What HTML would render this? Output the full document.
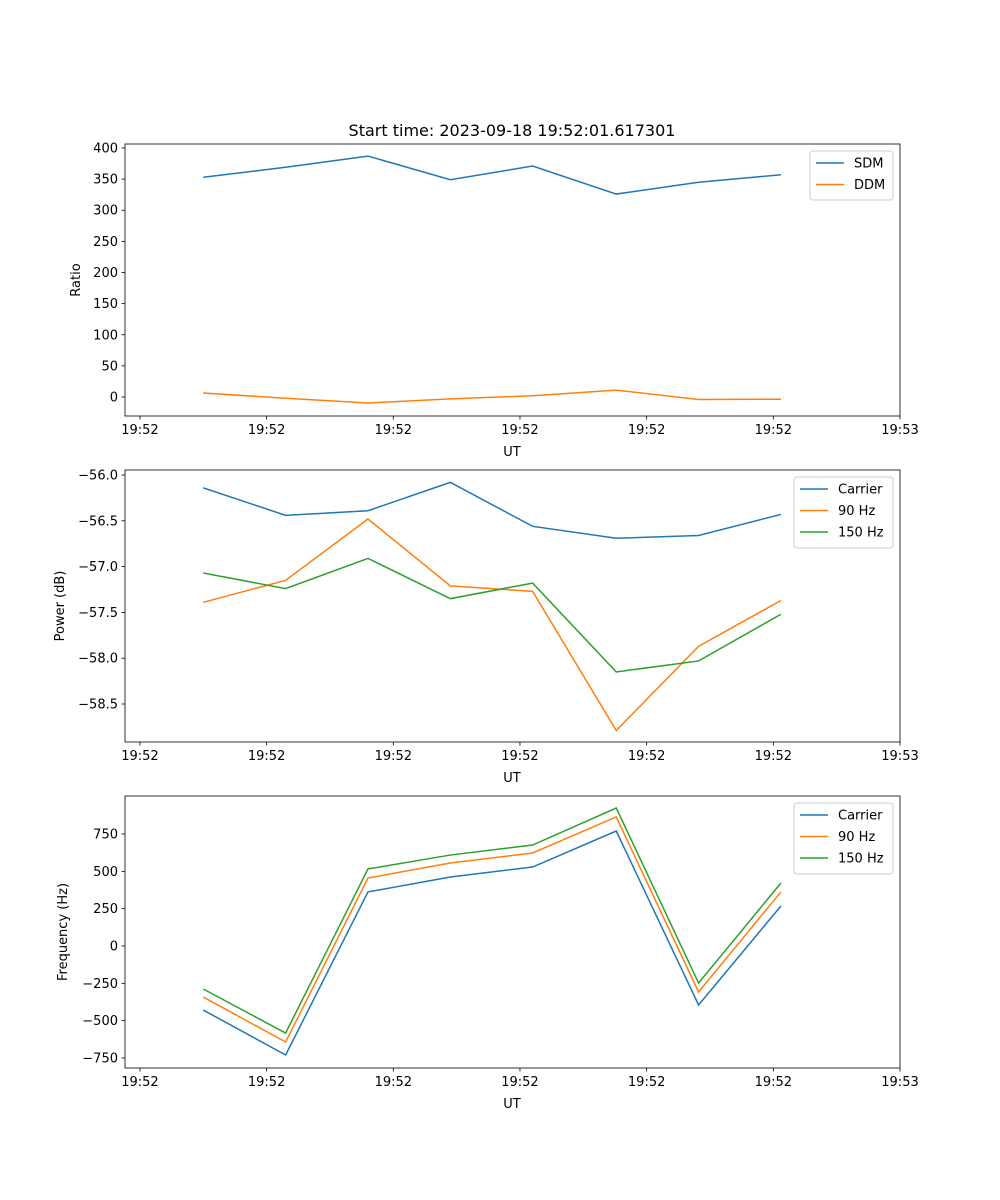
<!DOCTYPE html>
<html><head><meta charset="utf-8"><style>
html,body{margin:0;padding:0;background:#fff;}
svg{display:block;font-family:"DejaVu Sans","Liberation Sans",sans-serif;}
</style></head><body>
<svg id="fig" width="1000" height="1200" viewBox="0 0 1000 1200">
<rect width="1000" height="1200" fill="#fff"/>
<text x="512" y="136" text-anchor="middle" font-size="16">Start time: 2023-09-18 19:52:01.617301</text>
</svg>
<script>
const times = [5, 11.5, 18.0, 24.5, 31.0, 37.6, 44.1, 50.6];
const xTicks = [0, 10, 20, 30, 40, 50, 60];
const xTickLabels = ["19:52","19:52","19:52","19:52","19:52","19:52","19:53"];
const sdm = [353, 369, 387, 349, 371, 326, 345, 357];
const ddm = [6.4, -2, -9.6, -3, 2, 11, -4, -3.5];
const powCarrier = [-56.14, -56.44, -56.39, -56.08, -56.56, -56.69, -56.66, -56.43];
const pow90 = [-57.39, -57.15, -56.48, -57.21, -57.27, -58.79, -57.87, -57.37];
const pow150 = [-57.07, -57.24, -56.91, -57.35, -57.18, -58.15, -58.03, -57.52];
const freqCarrier = [-429, -730, 362, 462, 529, 770, -395, 268];
const freq90 = [-342, -643, 455, 556, 623, 864, -308, 362];
const freq150 = [-288, -583, 516, 609, 676, 924, -248, 422];
const yTicks1 = [0, 50, 100, 150, 200, 250, 300, 350, 400];
const yTicks2 = [-58.5, -58.0, -57.5, -57.0, -56.5, -56.0];
const yTicks3 = [-750, -500, -250, 0, 250, 500, 750];

const NS = "http://www.w3.org/2000/svg";
const svg = document.getElementById('fig');
function mk(tag, attrs, parent){const e=document.createElementNS(NS,tag);for(const k in attrs)e.setAttribute(k,attrs[k]);(parent||svg).appendChild(e);return e;}
const X0=125,X1=900,XMIN=-1.18,XMAX=60;
function xs(v){return X0+(v-XMIN)/(XMAX-XMIN)*(X1-X0);}
const colors=["#1f77b4","#ff7f0e","#2ca02c"];

function panel(name, top, ymin, ymax, yTicks, yFmt, ylabel, series, labels, legendX, legendW){
  const bot=top+272;
  const ys=v=>bot-(v-ymin)/(ymax-ymin)*272;
  const g=mk('g',{});
  
  
  series.forEach((s,i)=>{
    const p=mk('polyline',{points:s.map((v,j)=>xs(times[j])+','+ys(v)).join(' '),fill:'none',stroke:colors[i],'stroke-width':1.5},g);
    
    
  });
  mk('rect',{x:X0,y:top,width:X1-X0,height:272,fill:'none',stroke:'#000','stroke-width':0.8},g);
  xTicks.forEach((t,i)=>{
    const x=xs(t);
    mk('line',{x1:x,x2:x,y1:bot,y2:bot+3.5,stroke:'#000','stroke-width':0.8},g);
    const tx=mk('text',{x:x,y:bot+18,'text-anchor':'middle','font-size':13},g);tx.textContent=xTickLabels[i];
    
    
  });
  yTicks.forEach(t=>{
    const y=ys(t);
    mk('line',{x1:X0-3.5,x2:X0,y1:y,y2:y,stroke:'#000','stroke-width':0.8},g);
    const tx=mk('text',{x:X0-7,y:y+4.5,'text-anchor':'end','font-size':13},g);tx.textContent=yFmt(t);
    
    
  });
  const xl=mk('text',{x:512,y:bot+40,'text-anchor':'middle','font-size':13},g);xl.textContent='UT';
  
  
  const yl=mk('text',{x:0,y:0,'text-anchor':'middle','font-size':13,transform:'translate('+(name==='ratio'?80:name==='power'?64:67)+','+(top+136)+') rotate(-90)'},g);yl.textContent=ylabel;
  
  
  const lg=mk('g',{},g);
  
  
  const lh=labels.length*22+5;
  mk('rect',{x:legendX,y:top+7,width:legendW,height:lh,rx:3,fill:'#fff','fill-opacity':0.8,stroke:'#ccc','stroke-width':1},lg);
  labels.forEach((l,i)=>{
    const y=top+19+i*21.5;
    mk('line',{x1:legendX+6,x2:legendX+34,y1:y,y2:y,stroke:colors[i],'stroke-width':1.5},lg);
    const t=mk('text',{x:legendX+44,y:y+4.5,'font-size':13},lg);t.textContent=l;
    
    
  });
}
panel('ratio',144,-30.5,406.4,yTicks1,v=>String(v),'Ratio',[sdm,ddm],['SDM','DDM'],810,83);
panel('power',470,-58.915,-55.945,yTicks2,v=>'\u2212'.repeat(1)+Math.abs(v).toFixed(1),'Power (dB)',[powCarrier,pow90,pow150],['Carrier','90 Hz','150 Hz'],794,99);
panel('frequency',796,-817,1004.5,yTicks3,v=>v<0?'\u2212'+Math.abs(v):String(v),'Frequency (Hz)',[freqCarrier,freq90,freq150],['Carrier','90 Hz','150 Hz'],794,99);
</script>
</body></html>
